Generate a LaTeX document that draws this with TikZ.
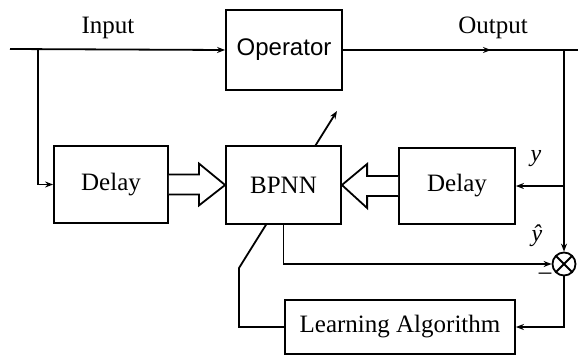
\documentclass[tikz,border=0pt]{standalone}
\usepackage{fontspec}
\setmainfont{Liberation Serif}
\newfontfamily\opfont{Liberation Sans}
\usetikzlibrary{arrows.meta,calc,decorations.markings}
\begin{document}
\begin{tikzpicture}[x=1pt,y=-1pt,
  line width=1.8pt,
  >={Stealth[length=8pt,width=6pt]},
  blk/.style={draw,fill=white,inner sep=0pt,font=\fontsize{25}{30}\selectfont},
  hollow/.style={draw,line width=1.8pt,fill=white,line join=miter},
  lbl/.style={inner sep=0pt,font=\fontsize{25}{30}\selectfont},
  midarrow/.style={postaction={decorate},decoration={markings,
    mark=at position #1 with {\arrow{Stealth[length=8pt,width=6pt]}}}}]
\useasboundingbox (0,0) rectangle (578,356);

% blocks
\node[blk,minimum width=116pt,minimum height=80pt,font=\opfont\fontsize{24}{28}\selectfont] (op) at (284,50) {Operator};
\node[blk,minimum width=114pt,minimum height=77pt] (d1) at (111,184.5) {Delay};
\node[blk,minimum width=116pt,minimum height=76pt] (d2) at (457,186) {Delay};
\node[blk,minimum width=230pt,minimum height=54pt] (la) at (400,327) {Learning Algorithm};

% adjustment arrow through the network
\coordinate (k1) at (239,268);
\coordinate (k2) at (337,111);
\draw[->] (la.west) -| (k1) -- (k2);

\node[blk,minimum width=115pt,minimum height=78pt] (bp) at (283.5,185) {BPNN};

% comparator
\node[draw,circle,minimum size=23pt,inner sep=0pt,
  path picture={\draw (path picture bounding box.north west) -- (path picture bounding box.south east)
                      (path picture bounding box.north east) -- (path picture bounding box.south west);}]
  (cmp) at (564,264) {};

% signal lines
\coordinate (inL) at (10,49);
\coordinate (inB) at (38,49);
\coordinate (outR) at (578,50);
\coordinate (outB) at (564,50);
\coordinate (yB) at (564,186);
\coordinate (eB) at (564,327);

\draw[->] (inL) -- (op.west);
\draw[->] (inB) |- (d1.west);
\draw[midarrow=0.63] (op.east) -- (outR);
\draw[->] (outB) -- (cmp.north);
\draw[->] (yB) -- (d2.east);
\draw[->] (bp.south) |- (cmp.west);
\draw[->] (cmp.south) -- (eB) -- (la.east);

% hollow data arrows into the network
\draw[hollow] ($(d1.east)+(0,-10)$) -- ++(30,0) -- ++(0,-11) -- (bp.west)
  -- ($(d1.east)+(30,21)$) -- ++(0,-11) -- ($(d1.east)+(0,10)$);
\draw[hollow] ($(d2.west)+(0,-10)$) -- ++(-31,0) -- ++(0,-12) -- (bp.east)
  -- ($(d2.west)+(-31,22)$) -- ++(0,-12) -- ($(d2.west)+(0,10)$);

% labels
\node[lbl,anchor=base] (tin) at (108,33) {Input};
\node[lbl,anchor=base] (tout) at (493,33) {Output};
\node[lbl,anchor=base,font=\itshape\fontsize{24}{28}\selectfont] (ty) at (536,161) {y};
\node[lbl,anchor=base,font=\itshape\fontsize{24}{28}\selectfont] (tyh) at (537,241) {ŷ};
\node[lbl,anchor=base] (tm) at (545,279) {–};
\end{tikzpicture}
\end{document}
